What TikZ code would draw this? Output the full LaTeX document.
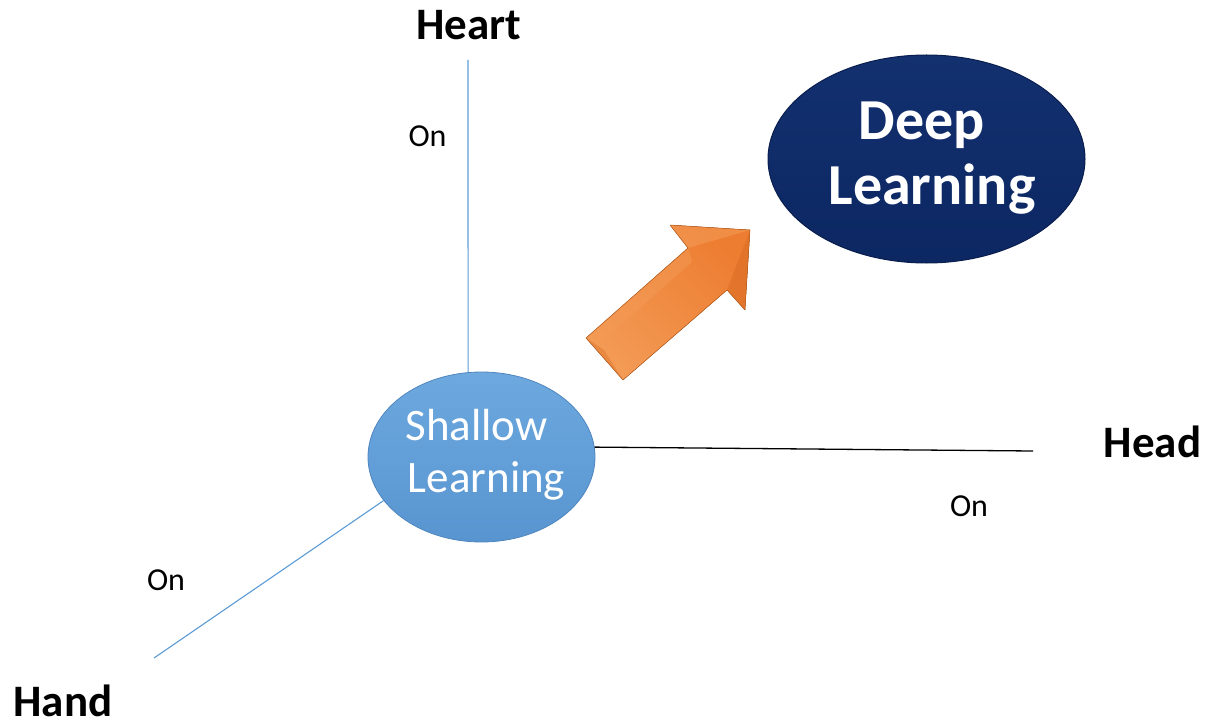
\documentclass[tikz,border=0pt]{standalone}
\usepackage{fontspec}
\setmainfont{Carlito}
\usetikzlibrary{shapes.geometric}
\definecolor{axisblue}{HTML}{5B9BD5}
\definecolor{shallowtop}{HTML}{6DA8DF}
\definecolor{shallowbot}{HTML}{5895D0}
\definecolor{shallowedge}{HTML}{4F86BF}
\definecolor{deepfill}{HTML}{0C2762}
\definecolor{deeptop}{HTML}{13306F}
\definecolor{deepedge}{HTML}{0A1E4E}
\definecolor{orangemain}{HTML}{ED7D31}
\definecolor{orangelight}{HTML}{F39A55}
\definecolor{orangedark}{HTML}{DA6E24}
\begin{document}
\begin{tikzpicture}[x=1pt,y=-1pt,
  axislabel/.style={font=\fontsize{45}{54}\selectfont\bfseries, anchor=base, inner sep=0pt},
  onlabel/.style={font=\fontsize{32}{38}\selectfont, anchor=base, inner sep=0pt},
  blueline/.style={draw=axisblue, line width=1.1pt},
  blackline/.style={draw=black, line width=1.3pt},
  shallowstyle/.style={ellipse, minimum width=227pt, minimum height=170pt, inner sep=0pt,
     top color=shallowtop, bottom color=shallowbot, draw=shallowedge, line width=0.8pt},
  deepstyle/.style={ellipse, minimum width=317pt, minimum height=208pt, inner sep=0pt,
     top color=deeptop, bottom color=deepfill, draw=deepedge, line width=1pt},
  ellipsetext/.style={text=white, align=center, inner sep=0pt}
]
\useasboundingbox (0,0) rectangle (1207,722);

% ellipses
\node[shallowstyle] (shallow) at (481.5,457) {};
\node[deepstyle] (deep) at (926.5,159) {};

% axes
\coordinate (heartend) at (468,60);
\coordinate (headend) at (1033,451);
\coordinate (handend) at (154,658);
\draw[blueline] (heartend) -- (shallow.99);
\draw[blackline] (shallow.5) -- (headend);
\draw[blueline] (shallow.204) -- (handend);

% ellipse texts
\node[ellipsetext, font=\fontsize{45}{52}\selectfont] (shallowtext) at (486.5,455) {Shallow\hspace*{20pt}\\Learning};
\node[ellipsetext, font=\fontsize{58}{65}\selectfont\bfseries] (deeptext) at (932,158) {Deep\hspace*{20pt}\\Learning};

% arrow
\coordinate (a1) at (586,338);
\coordinate (a2) at (688,248);
\coordinate (a3) at (670,225);
\coordinate (a4) at (750,230);
\coordinate (a5) at (745,310);
\coordinate (a6) at (727,290);
\coordinate (a7) at (623,380);
\fill[left color=orangelight, right color=orangemain, shading angle=135] (a1) -- (a2) -- (a3) -- (a4) -- (a5) -- (a6) -- (a7) -- cycle;
\fill[orangedark, opacity=0.6] (a4) -- (a5) -- (a6) -- cycle;
\fill[orangelight, opacity=0.6] (a3) -- (a4) -- (a2) -- cycle;
\fill[orangelight, opacity=0.5] (a1) -- (a2) -- (692,262) -- (600,343) -- cycle;
\fill[orangedark, opacity=0.4] (a1) -- (a7) -- (604,350) -- cycle;
\draw[orangedark!85!black, line width=0.5pt, line join=round] (a1) -- (a2) -- (a3) -- (a4) -- (a5) -- (a6) -- (a7) -- cycle;

% labels
\node[axislabel] (heart) at (468.5,40) {Heart};
\node[axislabel] (head) at (1152.5,457) {Head};
\node[axislabel] (hand) at (63,716) {Hand};
\node[onlabel] (onheart) at (427.5,147) {On};
\node[onlabel] (onhead) at (969,516) {On};
\node[onlabel] (onhand) at (166,590) {On};
\end{tikzpicture}
\end{document}
